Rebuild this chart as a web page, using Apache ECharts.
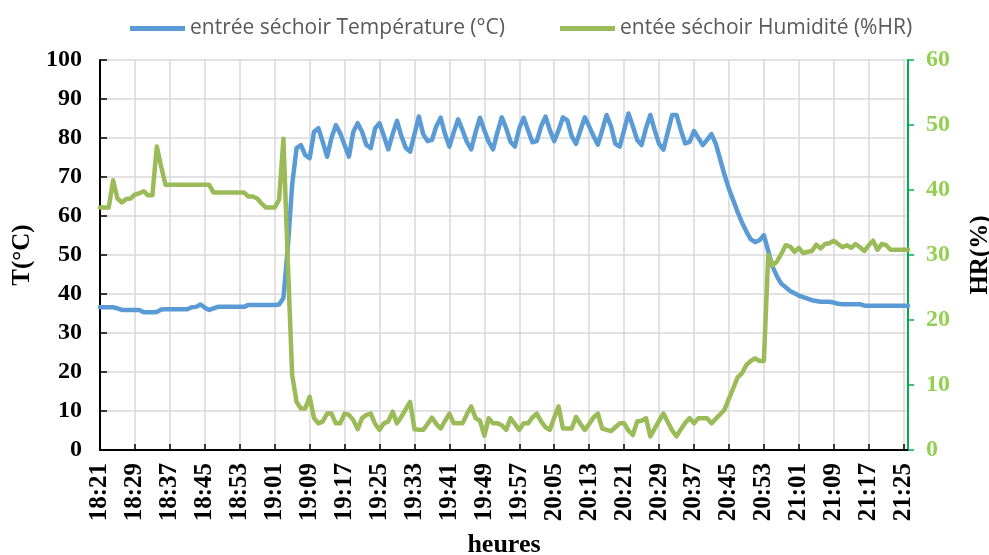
<!DOCTYPE html>
<html>
<head>
<meta charset="utf-8">
<script src="https://cdn.jsdelivr.net/npm/echarts@6/dist/echarts.min.js"></script>
<style>html,body{margin:0;padding:0;background:#fff;overflow:hidden;}#c{width:989px;height:555px;}</style>
</head>
<body>
<div id="c"></div>
<script>
// one reading per minute, 18:21 -> 21:26
const startTime = '18:21';
const nPoints = 186;
const tempLabel = 'entrée séchoir Température (°C)';
const humLabel = 'entée séchoir Humidité (%HR)';

const temperature = [
36.6,36.6,36.6,36.6,36.3,35.9,35.9,35.9,35.9,35.9,
35.3,35.3,35.3,35.4,36.0,36.1,36.1,36.1,36.1,36.1,
36.1,36.6,36.7,37.3,36.5,35.9,36.3,36.7,36.7,36.7,
36.7,36.7,36.7,36.7,37.2,37.2,37.2,37.2,37.2,37.2,
37.2,37.3,39.0,52,68,77.4,78.2,75.6,74.8,81.6,
82.5,79,75.2,80,83.3,81.2,78.2,75.2,81.6,83.8,
81.6,78.2,77.4,82.5,83.8,80.5,77.1,81,84.4,80.5,
77.5,76.5,81,85.5,81,79.2,79.5,83,85.2,81,
77.8,81.5,84.8,82,79,77.1,81.5,85.2,82,79,
77.1,81.5,85.3,82.5,79,77.8,82.5,85.2,82,78.9,
79.2,83,85.5,82,79.2,82,85.3,84.5,80.5,78.5,
82,85.3,83,80.5,78.3,82,85.9,83,78.5,77.8,
82,86.3,83,79.5,78.2,82.5,85.9,82,78.5,77,
81.5,85.9,85.9,82,78.6,79,81.8,80,78.2,79.5,
81,78.5,74.5,70.5,67,64,61,58.3,56,54,
53.3,53.8,55.1,51,47,44.5,42.6,41.7,40.8,40.2,
39.6,39.2,38.8,38.4,38.2,38.0,38.0,38.0,37.8,37.5,
37.4,37.4,37.4,37.4,37.4,37.0,37.0,37.0,37.0,37.0,
37.0,37.0,37.0,37.0,37.0,37.0
];

const humidity = [
37.3,37.3,37.3,41.5,38.7,38.1,38.6,38.7,39.3,39.5,
39.8,39.2,39.2,46.7,43.6,40.8,40.8,40.8,40.8,40.8,
40.8,40.8,40.8,40.8,40.8,40.8,39.6,39.6,39.6,39.6,
39.6,39.6,39.6,39.6,39,39,38.7,37.9,37.3,37.3,
37.3,38.5,47.9,29,11.5,7.4,6.4,6.4,8.2,4.9,
4.1,4.4,5.6,5.6,4.1,4.1,5.6,5.4,4.6,3.2,
4.9,5.4,5.6,4,3.1,4.1,4.4,5.9,4.1,5.1,
6.3,7.4,3.2,3.1,3.1,4,5.0,4,3.3,4.5,
5.6,4.1,4.1,4.1,5.5,6.7,4.9,4.5,2.2,4.9,
4.1,4.1,3.8,3.1,4.9,4,3.1,4.1,4.1,5,
5.6,4.4,3.5,3.1,5,6.7,3.3,3.3,3.3,5.1,
4,3.1,4,5,5.6,3.3,3.1,2.9,3.5,4.1,
4.1,3,2.3,4.4,4.5,4.9,2.1,3.3,4.5,5.6,
4.3,3,2.1,3.2,4.2,4.9,4.1,4.9,4.9,4.9,
4.1,4.8,5.5,6.2,7.9,9.5,11.2,11.8,13.1,13.7,
14.1,13.7,13.7,30,28.4,29,30.2,31.5,31.3,30.5,
31.1,30.3,30.5,30.6,31.6,31,31.7,31.8,32.2,31.7,
31.2,31.5,31.1,31.7,31.2,30.6,31.5,32.2,30.8,31.7,
31.5,30.8,30.8,30.8,30.8,30.8
];

// tick labels: one category per minute
const times = [];
(function(){
  let [h, m] = startTime.split(':').map(Number);
  for (let i = 0; i < nPoints; i++) {
    times.push(h + ':' + String(m).padStart(2, '0'));
    m++; if (m === 60) { m = 0; h++; }
  }
})();

const serif = 'Liberation Serif';
const chart = echarts.init(document.getElementById('c'), null, {renderer: 'canvas', width: 989, height: 555});
chart.setOption({
  animation: false,
  backgroundColor: '#fff',
  legend: [
    { data: [tempLabel], left: 125, top: 13, icon: 'rect', itemWidth: 55, itemHeight: 5,
      textStyle: { fontFamily: 'Open Sans', fontSize: 21, color: '#595959' } },
    { data: [humLabel], left: 555, top: 13, icon: 'rect', itemWidth: 55, itemHeight: 5,
      textStyle: { fontFamily: 'Open Sans', fontSize: 21, color: '#595959' } }
  ],
  grid: { left: 100, right: 81, top: 60, bottom: 105, containLabel: false, outerBoundsMode: 'none' },
  xAxis: {
    type: 'category', data: times, boundaryGap: false,
    name: 'heures', nameLocation: 'middle', nameGap: 82,
    nameTextStyle: { fontFamily: serif, fontWeight: 'bold', fontSize: 26, color: '#000' },
    axisLine: { lineStyle: { color: '#000', width: 2 } },
    axisTick: { show: true, inside: true, length: 6, interval: 7, lineStyle: { color: '#000', width: 1.5 } },
    axisLabel: { interval: 7, rotate: 90, margin: 13, fontFamily: serif, fontWeight: 'bold', fontSize: 25, color: '#000' },
    splitLine: { show: true, interval: 7, lineStyle: { color: '#D9D9D9', width: 1.5 } }
  },
  yAxis: [
    { type: 'value', min: 0, max: 100, interval: 10, position: 'left',
      name: 'T(°C)', nameLocation: 'middle', nameGap: 65, nameRotate: 90,
      nameTextStyle: { fontFamily: serif, fontWeight: 'bold', fontSize: 25, color: '#000' },
      axisLine: { show: true, lineStyle: { color: '#000', width: 2 } },
      axisTick: { show: true, inside: true, length: 7, lineStyle: { color: '#000', width: 1.5 } },
      axisLabel: { margin: 18, fontFamily: serif, fontWeight: 'bold', fontSize: 24, color: '#000' },
      splitLine: { show: true, lineStyle: { color: '#D9D9D9', width: 1.5 } }
    },
    { type: 'value', min: 0, max: 60, interval: 10, position: 'right',
      name: 'HR(%)', nameLocation: 'middle', nameGap: 60, nameRotate: 90,
      nameTextStyle: { fontFamily: serif, fontWeight: 'bold', fontSize: 25, color: '#000' },
      axisLine: { show: true, lineStyle: { color: '#00B050', width: 2 } },
      axisTick: { show: true, inside: false, length: 6, lineStyle: { color: '#00B050', width: 1.5 } },
      axisLabel: { margin: 18, fontFamily: serif, fontWeight: 'bold', fontSize: 24, color: '#92D050' },
      splitLine: { show: false }
    }
  ],
  series: [
    { name: tempLabel, type: 'line', data: temperature, yAxisIndex: 0, symbol: 'none',
      color: '#5B9BD5', lineStyle: { width: 4.5, color: '#5B9BD5', join: 'round', cap: 'round' } },
    { name: humLabel, type: 'line', data: humidity, yAxisIndex: 1, symbol: 'none',
      color: '#9BBB59', lineStyle: { width: 4.5, color: '#9BBB59', join: 'round', cap: 'round' } }
  ]
});
</script>
</body>
</html>
